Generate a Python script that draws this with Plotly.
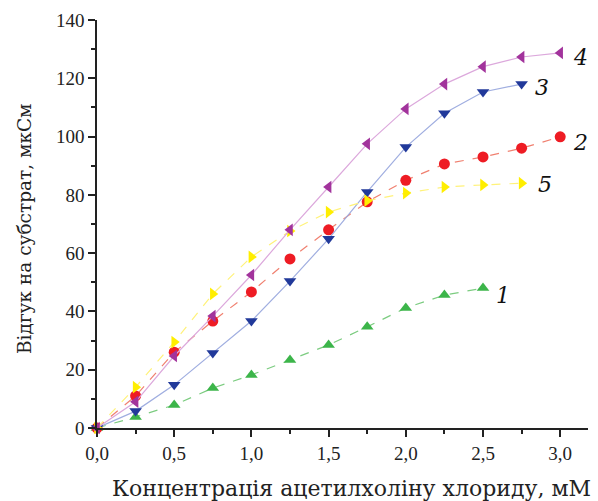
import plotly.graph_objects as go

x_vals = [0, 0.25, 0.5, 0.75, 1.0, 1.25, 1.5, 1.75, 2.0, 2.25, 2.5, 2.75, 3.0]

s1 = [0, 3.8, 7.9, 13.7, 18.2, 23.3, 28.5, 34.7, 41.2, 45.6, 48.0]
s2 = [0, 11, 26, 36.7, 46.7, 58, 68, 77.6, 85, 90.6, 93, 96, 99.9]
s3 = [0, 5.8, 14.8, 25.7, 36.7, 50.4, 64.9, 81, 96.4, 108, 115.3, 118]
s4 = [0, 9, 24.7, 38.4, 52.5, 68, 82.7, 97.5, 109.5, 118, 124, 127.3, 128.7]
s5 = [0, 14, 29.5, 46, 58.7, 67.6, 74.1, 78, 80.6, 82.7, 83.4, 84]

labels = ["1", "2", "3", "4", "5"]
label_x = [2.63, 3.13, 2.88, 3.13, 2.9]
label_y = [45.3, 97.8, 116.7, 127, 83.4]

x_title = "Концентрація ацетилхоліну хлориду, мМ"
y_title = "Відгук на субстрат, мкСм"

series = [
    (s1, "#3cb54a", "#7ccc80", "triangle-up", "dash"),
    (s2, "#ee1c24", "#f08070", "circle", "dash"),
    (s3, "#21399a", "#a0aee0", "triangle-down", "solid"),
    (s5, "#ffee00", "#fff27a", "triangle-right", "dash"),
    (s4, "#a2339c", "#dca8dc", "triangle-left", "solid"),
]

fig = go.Figure()
for ys, mc, lc, sym, dash in series:
    fig.add_trace(go.Scatter(
        x=x_vals[:len(ys)], y=ys, mode="lines+markers",
        line=dict(color=lc, width=1.2, dash=dash),
        marker=dict(color=mc, symbol=sym, size=11, line=dict(width=0)),
        showlegend=False, cliponaxis=False))

for t, lx, ly in zip(labels, label_x, label_y):
    fig.add_annotation(x=lx, y=ly, text="<i>" + t + "</i>", showarrow=False,
                       font=dict(family="DejaVu Serif", size=22, color="#111"))

tickfont = dict(family="Liberation Serif", size=19, color="#222")

fig.add_annotation(xref="paper", yref="paper", x=(351 - 97) / 491, y=-(489 - 428) / 408,
                   text=x_title, showarrow=False, xanchor="center", yanchor="middle",
                   font=dict(family="DejaVu Serif", size=22, color="#222"))
fig.add_annotation(xref="paper", yref="paper", x=-(97 - 25) / 491, y=(428 - 229) / 408,
                   text=y_title, showarrow=False, xanchor="center", yanchor="middle", textangle=-90,
                   font=dict(family="DejaVu Serif", size=18.5, color="#222"))

fig.update_layout(
    width=598, height=501,
    margin=dict(l=97, r=10, t=20, b=73),
    paper_bgcolor="white", plot_bgcolor="white",
    xaxis=dict(range=[0, 3.18], tickvals=[0, 0.5, 1.0, 1.5, 2.0, 2.5, 3.0],
               ticktext=["0,0", "0,5", "1,0", "1,5", "2,0", "2,5", "3,0"],
               showgrid=False, zeroline=False, showline=True, linecolor="#222", linewidth=1.5,
               ticks="outside", ticklen=7, tickwidth=1.5, tickcolor="#222",
               minor=dict(tickvals=[0.25, 0.75, 1.25, 1.75, 2.25, 2.75], ticks="outside", ticklen=4, tickwidth=1.5, tickcolor="#222"),
               tickfont=tickfont),
    yaxis=dict(range=[0, 140], tickvals=[0, 20, 40, 60, 80, 100, 120, 140],
               showgrid=False, zeroline=False, showline=True, linecolor="#222", linewidth=1.5,
               ticks="outside", ticklen=7, tickwidth=1.5, tickcolor="#222",
               minor=dict(tickvals=[10, 30, 50, 70, 90, 110, 130], ticks="outside", ticklen=4, tickwidth=1.5, tickcolor="#222"),
               tickfont=tickfont),
)

fig.write_html("out.html")
